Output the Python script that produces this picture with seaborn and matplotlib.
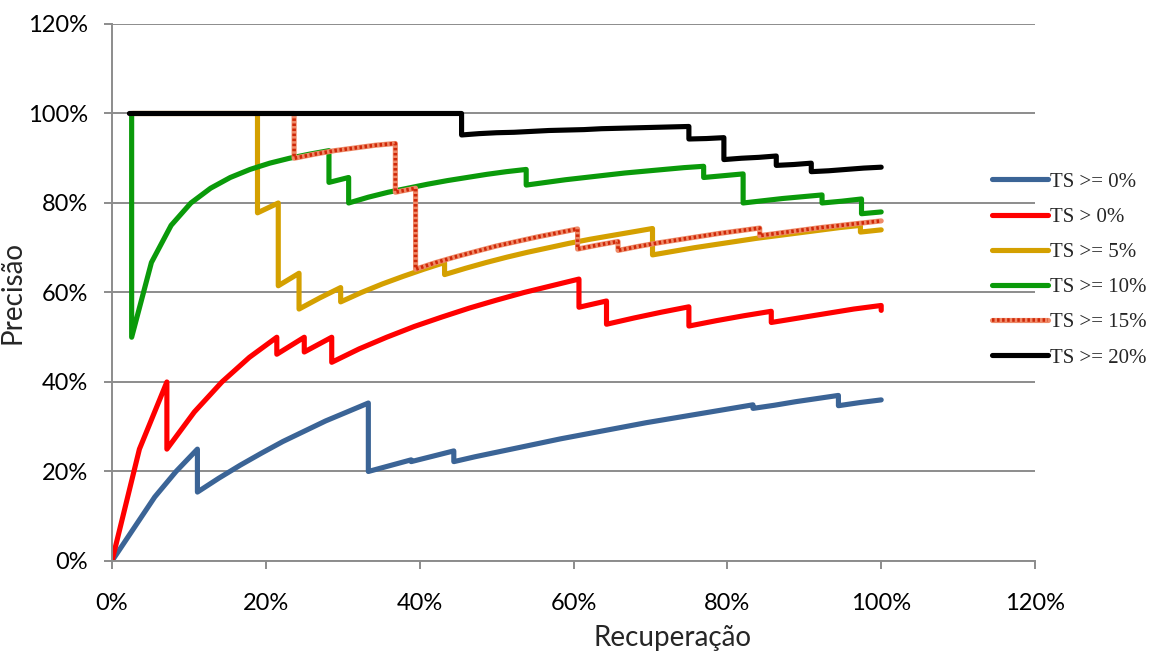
import matplotlib
matplotlib.use("Agg")
import matplotlib.pyplot as plt
import seaborn as sns
import pandas as pd
from matplotlib.lines import Line2D
from matplotlib.ticker import FuncFormatter

# ---------------- data (recall %, precision %) ----------------
series_names = ["TS >= 0%", "TS > 0%", "TS >= 5%", "TS >= 10%", "TS >= 15%", "TS >= 20%"]

rec_ts0 = [0, 5.56, 8.33, 11.11, 11.11, 13.89, 16.67, 19.44, 22.22, 25.0, 27.78, 30.56, 33.33,
           33.33, 36.11, 38.89, 38.89, 41.67, 44.44, 44.44, 47.22, 50.0, 52.78, 55.56, 58.33,
           61.11, 63.89, 66.67, 69.44, 72.22, 75.0, 77.78, 80.56, 83.33, 83.33, 86.11, 88.89,
           91.67, 94.44, 94.44, 97.22, 100.0]
prec_ts0 = [0, 14.3, 20.0, 25.0, 15.4, 18.5, 21.4, 24.1, 26.7, 29.0, 31.3, 33.3, 35.3,
            20.0, 21.3, 22.6, 22.2, 23.4, 24.6, 22.2, 23.3, 24.3, 25.3, 26.3, 27.3,
            28.2, 29.1, 30.0, 30.9, 31.7, 32.5, 33.3, 34.1, 34.9, 34.1, 34.8, 35.6,
            36.3, 37.0, 34.7, 35.4, 36.0]

rec_gt0 = [0, 3.57, 7.14, 7.14, 10.71, 14.29, 17.86, 21.43, 21.43, 25.0, 25.0, 28.57, 28.57,
           32.14, 35.71, 39.29, 42.86, 46.43, 50.0, 53.57, 57.14, 60.71, 60.71, 64.29, 64.29,
           67.86, 71.43, 75.0, 75.0, 78.57, 82.14, 85.71, 85.71, 89.29, 92.86, 96.43, 100.0, 100.0]
prec_gt0 = [0, 25.0, 40.0, 25.0, 33.3, 40.0, 45.5, 50.0, 46.2, 50.0, 46.7, 50.0, 44.4,
            47.4, 50.0, 52.4, 54.5, 56.5, 58.3, 60.0, 61.5, 63.0, 56.7, 58.1, 52.9,
            54.3, 55.6, 56.8, 52.5, 53.7, 54.8, 55.8, 53.3, 54.3, 55.3, 56.3, 57.1, 56.0]

rec_ts5 = [2.70, 18.92, 18.92, 21.62, 21.62, 24.32, 24.32, 27.03, 29.73, 29.73, 32.43, 35.14,
           37.84, 40.54, 43.24, 43.24, 45.95, 48.65, 51.35, 54.05, 56.76, 59.46, 62.16, 64.86,
           67.57, 70.27, 70.27, 72.97, 75.68, 78.38, 81.08, 83.78, 86.49, 89.19, 91.89, 94.59,
           97.30, 97.30, 100.0]
prec_ts5 = [100, 100, 77.8, 80.0, 61.5, 64.3, 56.3, 58.8, 61.1, 57.9, 60.0, 61.9,
            63.6, 65.2, 66.7, 64.0, 65.4, 66.7, 67.9, 69.0, 70.0, 71.0, 71.9, 72.7,
            73.5, 74.3, 68.4, 69.2, 70.0, 70.7, 71.4, 72.1, 72.7, 73.3, 73.9, 74.5,
            75.0, 73.5, 74.0]

rec_ts10 = [2.56, 2.56, 5.13, 7.69, 10.26, 12.82, 15.38, 17.95, 20.51, 23.08, 25.64, 28.21,
            28.21, 30.77, 30.77, 33.33, 35.90, 38.46, 41.03, 43.59, 46.15, 48.72, 51.28, 53.85,
            53.85, 56.41, 58.97, 61.54, 64.10, 66.67, 69.23, 71.79, 74.36, 76.92, 76.92, 79.49,
            82.05, 82.05, 84.62, 87.18, 89.74, 92.31, 92.31, 94.87, 97.44, 97.44, 100.0]
prec_ts10 = [100, 50.0, 66.7, 75.0, 80.0, 83.3, 85.7, 87.5, 88.9, 90.0, 90.9, 91.7,
             84.6, 85.7, 80.0, 81.3, 82.4, 83.3, 84.2, 85.0, 85.7, 86.4, 87.0, 87.5,
             84.0, 84.6, 85.2, 85.7, 86.2, 86.7, 87.1, 87.5, 87.9, 88.2, 85.7, 86.1,
             86.5, 80.0, 80.5, 81.0, 81.4, 81.8, 80.0, 80.4, 80.9, 77.6, 78.0]

rec_ts15 = [2.63, 23.68, 23.68, 26.32, 28.95, 31.58, 34.21, 36.84, 36.84, 39.47, 39.47, 42.11,
            44.74, 47.37, 50.0, 52.63, 55.26, 57.89, 60.53, 60.53, 63.16, 65.79, 65.79, 68.42,
            71.05, 73.68, 76.32, 78.95, 81.58, 84.21, 84.21, 86.84, 89.47, 92.11, 94.74, 97.37, 100.0]
prec_ts15 = [100, 100, 90.0, 90.9, 91.7, 92.3, 92.9, 93.3, 82.4, 83.3, 65.2, 66.7,
             68.0, 69.2, 70.4, 71.4, 72.4, 73.3, 74.2, 69.7, 70.6, 71.4, 69.4, 70.3,
             71.1, 71.8, 72.5, 73.2, 73.8, 74.4, 72.7, 73.3, 73.9, 74.5, 75.0, 75.5, 76.0]

rec_ts20 = [2.27, 45.45, 45.45, 47.73, 50.0, 52.27, 54.55, 56.82, 59.09, 61.36, 63.64, 65.91,
            68.18, 70.45, 72.73, 75.0, 75.0, 77.27, 79.55, 79.55, 81.82, 84.09, 86.36, 86.36,
            88.64, 90.91, 90.91, 93.18, 95.45, 97.73, 100.0]
prec_ts20 = [100, 100, 95.2, 95.5, 95.7, 95.8, 96.0, 96.2, 96.3, 96.4, 96.6, 96.7,
             96.8, 96.9, 97.0, 97.1, 94.3, 94.4, 94.6, 89.7, 90.0, 90.2, 90.5, 88.4,
             88.6, 88.9, 87.0, 87.2, 87.5, 87.8, 88.0]

axis_ticks = [0, 20, 40, 60, 80, 100, 120]

# ---------------- build long table ----------------
frames = []
for name, r, p in zip(series_names,
                      [rec_ts0, rec_gt0, rec_ts5, rec_ts10, rec_ts15, rec_ts20],
                      [prec_ts0, prec_gt0, prec_ts5, prec_ts10, prec_ts15, prec_ts20]):
    frames.append(pd.DataFrame({"serie": name, "Recuperação": r, "Precisão": p,
                                "ordem": range(len(r))}))
df = pd.concat(frames, ignore_index=True)

colors = {"TS >= 0%": "#3B6496", "TS > 0%": "#FF0000", "TS >= 5%": "#D4A000",
          "TS >= 10%": "#0A9A0A", "TS >= 15%": "#EE8A68", "TS >= 20%": "#000000"}

sns.set_theme(style="white")
plt.rcParams['font.family'] = ['Lato', 'DejaVu Sans']

fig = plt.figure(figsize=(11.53, 6.52), dpi=100)
ax = fig.add_axes([0.0971, 0.1396, 0.8006, 0.8236])

LW = 3.7
line_kw = dict(solid_joinstyle="round", solid_capstyle="round")
for name in series_names:
    sub = df[df["serie"] == name]
    sns.lineplot(data=sub, x="Recuperação", y="Precisão", ax=ax, sort=False,
                 estimator=None, color=colors[name], linewidth=LW, legend=False, **line_kw)
    if name == "TS >= 15%":
        ax.plot(sub["Recuperação"], sub["Precisão"], color="#D02808", linewidth=2.6,
                linestyle=(0, (0.7, 0.7)), dash_joinstyle="round")

# ---------------- axes styling ----------------
grey = "#8C8C8C"
ax.set_xlim(0, 120)
ax.set_ylim(0, 120)
ax.set_xticks(axis_ticks)
ax.set_yticks(axis_ticks)
pct = FuncFormatter(lambda v, pos: f"{v:.0f}%")
ax.xaxis.set_major_formatter(pct)
ax.yaxis.set_major_formatter(pct)
ax.yaxis.grid(True, color=grey, linewidth=1.4)
ax.xaxis.grid(False)
ax.set_axisbelow(True)
for s in ["top", "right"]:
    ax.spines[s].set_visible(False)
for s in ["left", "bottom"]:
    ax.spines[s].set_color(grey)
    ax.spines[s].set_linewidth(1.4)
ax.tick_params(axis="both", which="major", direction="out", length=6, width=1.4,
               color=grey, labelsize=17, labelcolor="black")
ax.tick_params(axis="x", pad=17)
ax.tick_params(axis="y", pad=11)
ax.tick_params(bottom=True, left=True)

ax.set_xlabel("Recuperação", fontsize=20)
ax.set_ylabel("Precisão", fontsize=20)
ax.xaxis.set_label_coords(0.607, -0.119)
ax.yaxis.set_label_coords(-0.094, 0.5)

# ---------------- legend ----------------
handles = []
for name in series_names:
    h = Line2D([], [], color=colors[name], linewidth=LW, solid_capstyle="round")
    if name == "TS >= 15%":
        h2 = Line2D([], [], color="#D02808", linewidth=2.6, linestyle=(0, (0.7, 0.7)))
        h = (h, h2)
    handles.append(h)
leg = fig.legend(handles, series_names, loc="upper left",
                 bbox_to_anchor=(992 / 1153, 1 - 172 / 652), bbox_transform=fig.transFigure,
                 frameon=False, borderpad=0, borderaxespad=0, handlelength=2.7,
                 handletextpad=0.1, labelspacing=0.75,
                 prop={"family": "Liberation Serif", "size": 15})

fig.savefig("out.png", dpi=100)
